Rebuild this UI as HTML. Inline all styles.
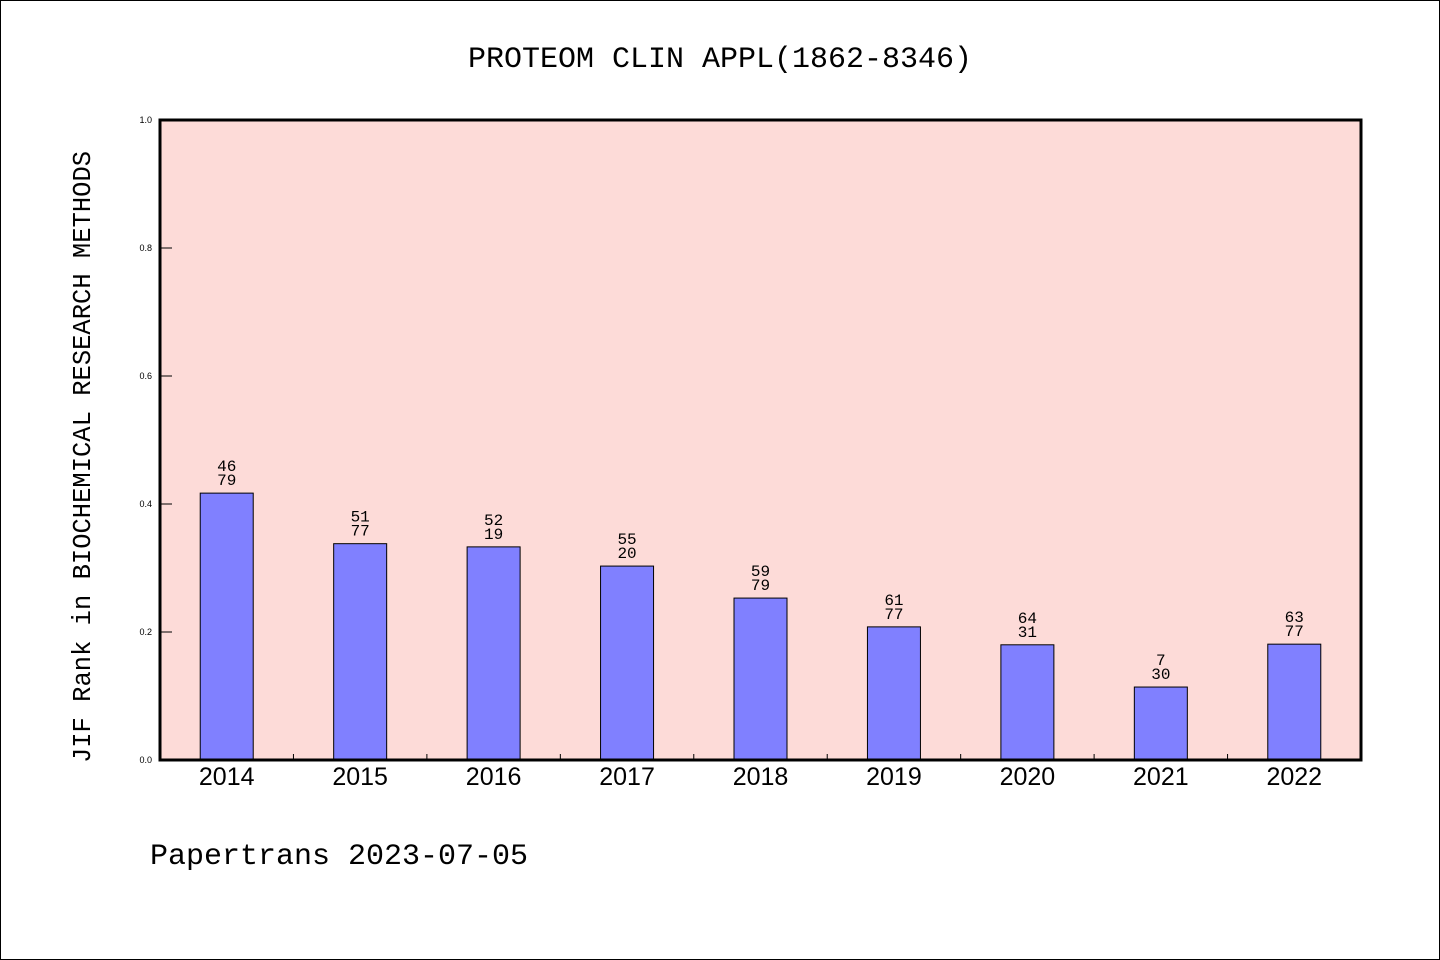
<!DOCTYPE html>
<html><head><meta charset="utf-8"><style>
html,body{margin:0;padding:0;background:#fff;}
svg{display:block;}
text{font-family:"WenQuanYi Zen Hei","Liberation Mono",monospace;}
</style></head><body>
<svg id="chart" width="1440" height="960" xmlns="http://www.w3.org/2000/svg">
<rect x="0.5" y="0.5" width="1439" height="959" fill="#fff" stroke="#000" stroke-width="1"/>
<text x="720" y="67" text-anchor="middle" font-size="30" style="font-family:'Liberation Mono',monospace">PROTEOM CLIN APPL(1862-8346)</text>
<rect x="160" y="120" width="1201" height="640" fill="#fddbd8"/>
<g id="bars"></g>
<rect x="160" y="120" width="1201" height="640" fill="none" stroke="#000" stroke-width="3"/>
<text transform="translate(90,457) rotate(-90)" text-anchor="middle" font-size="25.5" style="font-family:'Liberation Mono',monospace">JIF Rank in BIOCHEMICAL RESEARCH METHODS</text>
<text x="150" y="864" font-size="30" style="font-family:'Liberation Mono',monospace">Papertrans 2023-07-05</text>
</svg>
<script>
const categories = ["2014","2015","2016","2017","2018","2019","2020","2021","2022"];
const values = [0.417,0.338,0.333,0.303,0.253,0.208,0.180,0.114,0.181];
const labelTop = ["46","51","52","55","59","61","64","7","63"];
const labelBottom = ["79","77","19","20","79","77","31","30","77"];
const yTicks = [0,0.2,0.4,0.6,0.8,1.0];
const yTickLabels = ["0.0","0.2","0.4","0.6","0.8","1.0"];

const NS="http://www.w3.org/2000/svg";
const X0=160,X1=1361,Y0=760,Y1=120;
const band=(X1-X0)/categories.length;
const xc=i=>X0+band*(i+0.5);
const y=v=>Y0-(v)*(Y0-Y1);
const g=document.getElementById('bars');
const svg=document.getElementById('chart');
function mk(tag,attrs,parent){const e=document.createElementNS(NS,tag);for(const k in attrs)e.setAttribute(k,attrs[k]);(parent||g).appendChild(e);return e;}
categories.forEach((c,i)=>{
  const bw=53;
  const r=mk('rect',{x:xc(i)-bw/2,y:y(values[i]),width:bw,height:Y0-y(values[i]),fill:'#8080ff',stroke:'#000','stroke-width':1});
  
  
  const t1=mk('text',{x:xc(i),y:y(values[i])-22,'text-anchor':'middle','font-size':16});
  t1.textContent=labelTop[i];
  
  
  const t2=mk('text',{x:xc(i),y:y(values[i])-8,'text-anchor':'middle','font-size':16});
  t2.textContent=labelBottom[i];
  
  
  const xl=mk('text',{x:xc(i),y:785,'text-anchor':'middle','font-size':25,style:"font-family:'Liberation Sans',sans-serif"},svg);
  xl.textContent=c;
  
  
  if(i>0){
    const tk=mk('line',{x1:X0+band*i,x2:X0+band*i,y1:Y0,y2:Y0-6,stroke:'#000','stroke-width':1});
    
    
  }
});
yTicks.forEach((v,i)=>{
  const tk=mk('line',{x1:X0,x2:X0+12,y1:y(v),y2:y(v),stroke:'#000','stroke-width':1},svg);
  
  
  const tl=mk('text',{x:X0-8,y:y(v)+3,'text-anchor':'end','font-size':9,style:"font-family:'Liberation Sans',sans-serif"},svg);
  tl.textContent=yTickLabels[i];
  
  
});
</script>
</body></html>
